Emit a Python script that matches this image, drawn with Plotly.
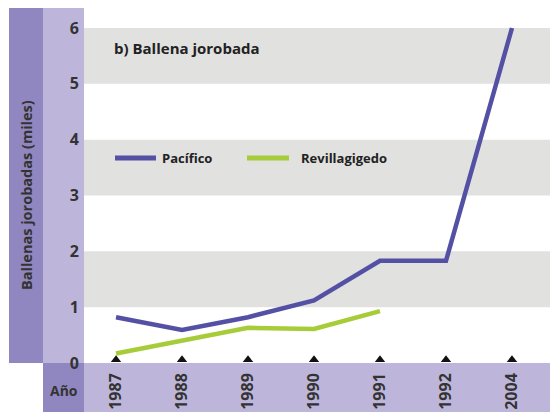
import plotly.graph_objects as go

# ---- data ----
years = ["1987", "1988", "1989", "1990", "1991", "1992", "2004"]
pacifico = [0.82, 0.59, 0.82, 1.12, 1.83, 1.83, 6.0]
revilla_years = ["1987", "1988", "1989", "1990", "1991"]
revillagigedo = [0.17, 0.41, 0.63, 0.61, 0.93]
y_ticks = [0, 1, 2, 3, 4, 5, 6]

W, H = 550, 412
def px(x):
    return x / W
def py(y):
    return 1 - y / H

DARK = "#9187c0"
LIGHT = "#bdb6da"
BAND = "#e1e1e0"
TXT = "#333333"
C_PAC = "#5450a4"
C_REV = "#a6cd39"
FONT = "Open Sans"

fig = go.Figure()

fig.add_trace(go.Scatter(x=years, y=pacifico, mode="lines", name="Pacífico",
                         line=dict(color=C_PAC, width=4.5), cliponaxis=False,
                         showlegend=False))
fig.add_trace(go.Scatter(x=revilla_years, y=revillagigedo, mode="lines",
                         name="Revillagigedo",
                         line=dict(color=C_REV, width=4.5), cliponaxis=False,
                         showlegend=False))

# tick markers (triangles)
x_left = -0.485
fig.add_trace(go.Scatter(x=[x_left + 0.035] * 6, y=y_ticks[1:], mode="markers",
                         marker=dict(symbol="triangle-right", size=8, color="#111111"),
                         cliponaxis=False, hoverinfo="skip", showlegend=False))
fig.add_trace(go.Scatter(x=years, y=[0.06] * len(years), mode="markers",
                         marker=dict(symbol="triangle-up", size=9, color="#111111"),
                         cliponaxis=False, hoverinfo="skip", showlegend=False))

shapes = []
# side panels
shapes.append(dict(type="rect", xref="paper", yref="paper", x0=px(9), x1=px(43),
                   y0=py(363), y1=py(8), fillcolor=DARK, line_width=0, layer="below"))
shapes.append(dict(type="rect", xref="paper", yref="paper", x0=px(43), x1=px(84),
                   y0=py(363), y1=py(8), fillcolor=LIGHT, line_width=0, layer="below"))
shapes.append(dict(type="rect", xref="paper", yref="paper", x0=px(43), x1=px(84),
                   y0=0, y1=py(363), fillcolor=DARK, line_width=0, layer="below"))
shapes.append(dict(type="rect", xref="paper", yref="paper", x0=px(84), x1=1,
                   y0=0, y1=py(363), fillcolor=LIGHT, line_width=0, layer="below"))
# gray bands
for lo in (1, 3, 5):
    shapes.append(dict(type="rect", xref="x domain", yref="y", x0=0, x1=1,
                       y0=lo, y1=lo + 1, fillcolor=BAND, line_width=0, layer="below"))
# legend samples
shapes.append(dict(type="line", xref="paper", yref="paper", x0=px(115), x1=px(156),
                   y0=py(158), y1=py(158), line=dict(color=C_PAC, width=5)))
shapes.append(dict(type="line", xref="paper", yref="paper", x0=px(247), x1=px(289),
                   y0=py(158), y1=py(158), line=dict(color=C_REV, width=5)))

annotations = [
    dict(text="b) Ballena jorobada", xref="paper", yref="paper", x=px(112), y=py(48),
         xanchor="left", yanchor="middle", showarrow=False,
         font=dict(family=FONT, size=15, color="#222222", weight=700)),
    dict(text="Pacífico", xref="paper", yref="paper", x=px(160), y=py(158),
         xanchor="left", yanchor="middle", showarrow=False,
         font=dict(family=FONT, size=13, color="#222222", weight=700)),
    dict(text="Revillagigedo", xref="paper", yref="paper", x=px(299), y=py(158),
         xanchor="left", yanchor="middle", showarrow=False,
         font=dict(family=FONT, size=13, color="#222222", weight=700)),
    dict(text="Ballenas jorobadas (miles)", xref="paper", yref="paper", x=px(26),
         y=py(195), xanchor="center", yanchor="middle", textangle=-90, showarrow=False,
         font=dict(family=FONT, size=14.5, color=TXT, weight=700)),
    dict(text="Año", xref="paper", yref="paper", x=px(64), y=py(390),
         xanchor="center", yanchor="middle", showarrow=False,
         font=dict(family=FONT, size=14, color=TXT, weight=700)),
]

fig.update_layout(
    width=W, height=H, autosize=False,
    margin=dict(l=0, r=0, t=0, b=0, pad=0),
    paper_bgcolor="white", plot_bgcolor="rgba(0,0,0,0)",
    shapes=shapes, annotations=annotations,
    xaxis=dict(type="category", categoryorder="array", categoryarray=years,
               range=[x_left, 6.576], domain=[px(84), 1], automargin=False,
               showgrid=False, zeroline=False, showline=False, ticks="",
               tickangle=-90, ticklabelstandoff=6,
               tickfont=dict(family=FONT, size=16, color=TXT, weight=700)),
    yaxis=dict(range=[0, 6.358], domain=[py(363), py(8)], automargin=False,
               tickvals=y_ticks, showgrid=False, zeroline=False, showline=False,
               ticks="", ticklabelstandoff=4,
               tickfont=dict(family=FONT, size=16, color=TXT, weight=700)),
)

post = "document.body.style.margin='0';document.body.style.overflow='hidden';"

fig.write_html("out.html", config={"displayModeBar": False}, post_script=post)
